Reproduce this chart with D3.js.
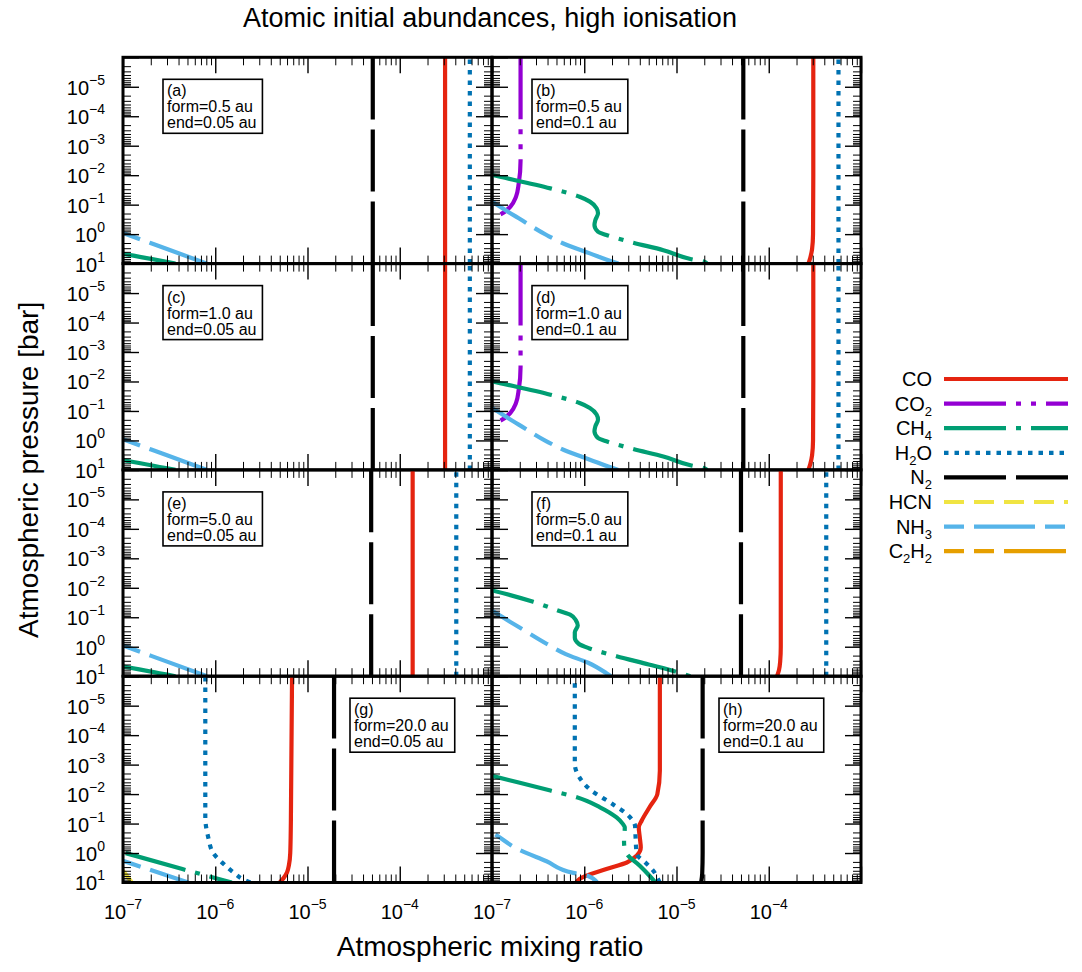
<!DOCTYPE html>
<html><head><meta charset="utf-8">
<script src="https://cdn.jsdelivr.net/npm/d3@7"></script>
<style>
body{margin:0;background:#fff}
svg{display:block}
text{font-family:"Liberation Sans",Arial,Helvetica,sans-serif;fill:#000}
</style>
</head><body>
<svg id="chart" width="1082" height="972"></svg>
<script>
// ---------------- DATA ----------------
const species = ["CO","CO2","CH4","H2O","N2","HCN","NH3","C2H2"];
const speciesLabels = [["CO",""],["CO","2"],["CH","4"],["H","2","O"],["N","2"],["HCN",""],["NH","3"],["C","2","H","2"]];
const panelIds = ["(a)","(b)","(c)","(d)","(e)","(f)","(g)","(h)"];
const formDist = ["0.5","0.5","1.0","1.0","5.0","5.0","20.0","20.0"];
const endDist  = ["0.05","0.1","0.05","0.1","0.05","0.1","0.05","0.1"];
const xTickValues = [1e-7,1e-6,1e-5,1e-4];
const xTickExp = ["\u22127","\u22126","\u22125","\u22124"];
const yTickValues = [1e-5,1e-4,1e-3,1e-2,1e-1,1,10];
const yTickExp = ["\u22125","\u22124","\u22123","\u22122","\u22121","0","1"];

// each series: [mixing ratio, pressure in bar], from deep (10 bar) upwards
const panelA = {
  CO:  [[3.1e-4,10],[3.1e-4,1e-6]],
  H2O: [[5.75e-4,10],[5.75e-4,1e-6]],
  N2:  [[5.1e-5,10],[5.1e-5,1e-6]],
  NH3: [[8.1e-7,10],[3.0e-7,3.2],[1.0e-7,0.91],[7.0e-8,0.6]],
  CH4: [[3.7e-7,10],[1.0e-7,4.7],[7.0e-8,3.9]]
};
const panelB = {
  CO:  [[2.69e-4,10],[2.82e-4,6.3],[2.95e-4,3.2],[3.02e-4,1],[3.04e-4,0.01],[3.04e-4,1e-6]],
  CO2: [[5.0e-8,0.5],[8.9e-8,0.32],[1.2e-7,0.224],[1.58e-7,0.117],[1.82e-7,0.054],[1.95e-7,0.019],[2.04e-7,3.2e-3],[2.04e-7,1e-6]],
  CH4: [[2.14e-5,10],[2.0e-5,8.7],[1.45e-5,7.1],[7.2e-6,3.5],[3.4e-6,1.95],[1.74e-6,1.07],[1.41e-6,0.83],[1.29e-6,0.49],[1.32e-6,0.33],[1.41e-6,0.195],[1.36e-6,0.132],[1.15e-6,0.079],[8.9e-7,0.054],[4.3e-7,0.028],[1.0e-7,0.0098],[6.3e-8,0.007]],
  H2O: [[5.7e-4,10],[5.7e-4,1e-6]],
  N2:  [[5.3e-5,10],[5.3e-5,1e-6]],
  NH3: [[2.34e-6,10],[2.04e-6,8.7],[1.15e-6,4.5],[6.5e-7,2.34],[3.9e-7,1.07],[1.95e-7,0.29],[1.58e-7,0.195],[1.0e-7,0.079],[7.1e-8,0.04]]
};
const panelC = {
  CO:  [[3.1e-4,10],[3.1e-4,1e-6]],
  H2O: [[5.75e-4,10],[5.75e-4,1e-6]],
  N2:  [[5.1e-5,10],[5.1e-5,1e-6]],
  NH3: [[8.1e-7,10],[3.0e-7,3.2],[1.0e-7,0.91],[7.0e-8,0.6]],
  CH4: [[3.7e-7,10],[1.0e-7,4.7],[7.0e-8,3.9]]
};
const panelD = {
  CO:  [[2.69e-4,10],[2.82e-4,6.3],[2.95e-4,3.2],[3.02e-4,1],[3.04e-4,0.01],[3.04e-4,1e-6]],
  CO2: [[5.0e-8,0.5],[8.9e-8,0.32],[1.2e-7,0.224],[1.58e-7,0.117],[1.82e-7,0.054],[1.95e-7,0.019],[2.04e-7,3.2e-3],[2.04e-7,1e-6]],
  CH4: [[2.14e-5,10],[2.0e-5,8.7],[1.45e-5,7.1],[7.2e-6,3.5],[3.4e-6,1.95],[1.74e-6,1.07],[1.41e-6,0.83],[1.29e-6,0.49],[1.32e-6,0.33],[1.41e-6,0.195],[1.36e-6,0.132],[1.15e-6,0.079],[8.9e-7,0.054],[4.3e-7,0.028],[1.0e-7,0.0098],[6.3e-8,0.007]],
  H2O: [[5.7e-4,10],[5.7e-4,1e-6]],
  N2:  [[5.3e-5,10],[5.3e-5,1e-6]],
  NH3: [[2.34e-6,10],[2.04e-6,8.7],[1.15e-6,4.5],[6.5e-7,2.34],[3.9e-7,1.07],[1.95e-7,0.29],[1.58e-7,0.195],[1.0e-7,0.079],[7.1e-8,0.04]]
};
const panelE = {
  CO:  [[1.38e-4,10],[1.38e-4,1e-6]],
  H2O: [[4.1e-4,10],[4.1e-4,1e-6]],
  N2:  [[4.9e-5,10],[4.9e-5,1e-6]],
  NH3: [[8.1e-7,10],[3.0e-7,3.2],[1.0e-7,0.91],[7.0e-8,0.6]],
  CH4: [[3.7e-7,10],[1.0e-7,4.7],[7.0e-8,3.9]]
};
const panelF = {
  CO:  [[1.23e-4,10],[1.29e-4,6.3],[1.33e-4,3.2],[1.35e-4,1],[1.35e-4,1e-6]],
  CH4: [[1.41e-5,10],[1.0e-5,7.1],[5.0e-6,4.0],[2.24e-6,2.1],[1.12e-6,1.12],[8.7e-7,0.79],[7.9e-7,0.5],[7.9e-7,0.32],[8.5e-7,0.19],[8.1e-7,0.126],[7.1e-7,0.083],[5.5e-7,0.063],[2.8e-7,0.030],[1.0e-7,0.0123],[6.3e-8,0.0089]],
  H2O: [[4.2e-4,10],[4.2e-4,1e-6]],
  N2:  [[5.0e-5,10],[5.0e-5,1e-6]],
  NH3: [[1.95e-6,10],[1.74e-6,7.9],[1.1e-6,3.5],[6.3e-7,1.78],[3.9e-7,0.79],[1.95e-7,0.214],[1.58e-7,0.145],[1.0e-7,0.059],[7.1e-8,0.032]]
};
const panelG = {
  CO:  [[5.0e-6,10],[5.5e-6,7.1],[6.0e-6,4.5],[6.3e-6,2.5],[6.5e-6,1],[6.6e-6,0.1],[6.8e-6,1e-6]],
  CH4: [[1.51e-6,10],[4.4e-7,3.5],[1.0e-7,0.95],[7.1e-8,0.7]],
  H2O: [[2.4e-6,10],[2.0e-6,7.8],[1.58e-6,4.6],[1.23e-6,2.34],[9.5e-7,1],[8.4e-7,0.295],[7.8e-7,0.062],[7.8e-7,1e-6]],
  N2:  [[1.94e-5,10],[1.94e-5,1e-6]],
  HCN: [[1.245e-7,10],[1.05e-7,4.9],[8.9e-8,2.8]],
  NH3: [[5.1e-7,10],[1.0e-7,1.82],[7.1e-8,1.26]]
};
const panelH = {
  CO:  [[8.2e-7,10],[8.9e-7,7.6],[1.74e-6,3.5],[2.9e-6,2.1],[3.7e-6,1.23],[4.1e-6,0.65],[4.0e-6,0.295],[3.9e-6,0.135],[4.2e-6,0.079],[5.1e-6,0.028],[6.2e-6,0.01],[6.6e-6,1.6e-3],[6.6e-6,1e-6]],
  CH4: [[5.9e-6,10],[5.1e-6,5.9],[4.0e-6,2.7],[2.9e-6,1.07],[2.7e-6,0.44],[2.75e-6,0.135],[2.63e-6,0.105],[2.24e-6,0.062],[1.48e-6,0.028],[8.3e-7,0.0129],[4.3e-7,7.6e-3],[1.0e-7,2.4e-3],[6.3e-8,1.66e-3]],
  H2O: [[6.6e-6,10],[6.3e-6,7.6],[5.6e-6,4.0],[4.6e-6,2.1],[3.7e-6,1.07],[3.6e-6,0.295],[3.55e-6,0.12],[2.9e-6,0.048],[2.04e-6,0.022],[1.15e-6,6.9e-3],[8.7e-7,2.45e-3],[7.9e-7,9.5e-4],[7.9e-7,1e-6]],
  N2:  [[1.85e-5,10],[1.9e-5,5],[1.92e-5,1],[1.92e-5,1e-6]],
  NH3: [[1.38e-6,10],[1.07e-6,5.75],[7.6e-7,4.7],[3.9e-7,1.9],[1.95e-7,0.76],[1.0e-7,0.2],[7.1e-8,0.11]]
};
const panels = [panelA,panelB,panelC,panelD,panelE,panelF,panelG,panelH];

// ---------------- STYLE / LAYOUT ----------------
const styles = {
  CO:   {color:"#e52410", dash:null, fromTop:false},
  CO2:  {color:"#9400d3", dash:"62,10,5,10,5,10", fromTop:true},
  CH4:  {color:"#009e73", dash:"62,10,5,10", fromTop:false},
  H2O:  {color:"#0072b2", dash:"4.5,6", fromTop:false},
  N2:   {color:"#000000", dash:"62,10", fromTop:false},
  HCN:  {color:"#f0e442", dash:"20,10", fromTop:false},
  NH3:  {color:"#56b4e9", dash:"20,10,61,10", fromTop:false},
  C2H2: {color:"#e69f00", dash:"20,10,20,10,62,10", fromTop:false}
};
// dash phase per panel (a..h)
const dashPhase = {
  CH4: [0,72,0,72,0,72,39,23],
  NH3: [30,30,30,30,30,30,51,7]
};
const plotLeft = 123, plotRight = 861, plotTop = 57.3, plotBottom = 882.5;
const colW = (plotRight - plotLeft) / 2;
const rowH = (plotBottom - plotTop) / 4;
const lineW = 4.2;

const x = d3.scaleLog().domain([1e-7, 1e-3]).range([0, colW]);
const y = d3.scaleLog().domain([1e-6, 10]).range([0, rowH]);
const line = d3.line().x(d => x(d[0])).y(d => y(d[1])).curve(d3.curveMonotoneY);

function minorTicks(lo, hi) {
  const out = [];
  for (let e = lo; e < hi; e++) for (let k = 2; k <= 9; k++) out.push(k * Math.pow(10, e));
  return out;
}
const xMajor = [1e-7,1e-6,1e-5,1e-4,1e-3];
const yMajor = [1e-6,1e-5,1e-4,1e-3,1e-2,1e-1,1,10];
const xMinor = minorTicks(-7, -3);
const yMinor = minorTicks(-6, 1);

const svg = d3.select("#chart");

// title and axis titles
svg.append("text").attr("x", 490).attr("y", 27)
  .attr("text-anchor", "middle").attr("font-size", 27)
  .text("Atomic initial abundances, high ionisation");
svg.append("text").attr("x", 490).attr("y", 956)
  .attr("text-anchor", "middle").attr("font-size", 28)
  .text("Atmospheric mixing ratio");
svg.append("text").attr("transform", `translate(38,${(plotTop + plotBottom) / 2}) rotate(-90)`)
  .attr("text-anchor", "middle").attr("font-size", 28)
  .text("Atmospheric pressure [bar]");

panels.forEach((pd, i) => {
  const col = i % 2, row = Math.floor(i / 2);
  const gx = plotLeft + col * colW, gy = plotTop + row * rowH;
  const g = svg.append("g").attr("transform", `translate(${gx},${gy})`);

  g.append("clipPath").attr("id", "clip" + i)
    .append("rect").attr("width", colW).attr("height", rowH);
  const lg = g.append("g").attr("clip-path", `url(#clip${i})`);
  species.forEach(sp => {
    const d = pd[sp];
    if (!d) return;
    const st = styles[sp];
    const pts = st.fromTop ? d.slice().reverse() : d;
    const off = dashPhase[sp] ? dashPhase[sp][i] : 0;
    lg.append("path").datum(pts).attr("d", line)
      .attr("fill", "none").attr("stroke", st.color).attr("stroke-width", lineW)
      .attr("stroke-linejoin", "round").attr("stroke-linecap", "butt")
      .attr("stroke-dasharray", st.dash).attr("stroke-dashoffset", off);
  });

  // ticks via d3 axes (inward)
  const mk = (axisFn, vals, size, w, tr) => {
    const a = g.append("g").attr("transform", tr)
      .call(axisFn.tickValues(vals).tickSize(size).tickFormat(""));
    a.select(".domain").remove();
    a.selectAll("line").attr("stroke", "#000").attr("stroke-width", w);
  };
  mk(d3.axisBottom(x), xMajor, -16, 1.4, `translate(0,${rowH})`);
  mk(d3.axisBottom(x), xMinor, -8, 1, `translate(0,${rowH})`);
  mk(d3.axisTop(x), xMajor, -16, 1.4, `translate(0,0)`);
  mk(d3.axisTop(x), xMinor, -8, 1, `translate(0,0)`);
  mk(d3.axisLeft(y), yMajor, -16, 1.4, `translate(0,0)`);
  mk(d3.axisLeft(y), yMinor, -8, 1, `translate(0,0)`);
  mk(d3.axisRight(y), yMajor, -16, 1.4, `translate(${colW},0)`);
  mk(d3.axisRight(y), yMinor, -8, 1, `translate(${colW},0)`);

  g.append("rect").attr("width", colW).attr("height", rowH)
    .attr("fill", "none").attr("stroke", "#000").attr("stroke-width", 3);

  // y tick labels (left column)
  if (col === 0) {
    yTickValues.forEach((v, k) => {
      const t = g.append("text").attr("x", -18).attr("y", y(v) + 8)
        .attr("text-anchor", "end").attr("font-size", 20);
      t.append("tspan").text("10");
      t.append("tspan").attr("dy", -10).attr("font-size", 14).text(yTickExp[k]);
    });
  }
  // x tick labels (bottom row)
  if (row === 3) {
    xTickValues.forEach((v, k) => {
      const t = g.append("text").attr("x", x(v)).attr("y", rowH + 37)
        .attr("text-anchor", "middle").attr("font-size", 20);
      t.append("tspan").text("10");
      t.append("tspan").attr("dy", -10).attr("font-size", 14).text(xTickExp[k]);
    });
  }

  // panel label box
  const bx = row === 3 ? 227 : 40, by = 22;
  const lab = g.append("g").attr("transform", `translate(${bx},${by})`);
  const rect = lab.append("rect").attr("fill", "#fff").attr("stroke", "#000").attr("stroke-width", 1.6);
  const lines = [panelIds[i], `form=${formDist[i]} au`, `end=${endDist[i]} au`];
  let maxW = 0;
  lines.forEach((s, k) => {
    const t = lab.append("text").attr("x", 4).attr("y", 17 + k * 16).attr("font-size", 16).text(s);
    maxW = Math.max(maxW, t.node().getComputedTextLength());
  });
  rect.attr("width", maxW + 10).attr("height", 54);
});

// legend
const legX1 = 944, legX2 = 1068, legTextX = 932, legY0 = 379, legDy = 24.6;
species.forEach((sp, k) => {
  const yy = legY0 + k * legDy;
  const st = styles[sp];
  svg.append("line").attr("x1", legX1).attr("x2", legX2).attr("y1", yy).attr("y2", yy)
    .attr("stroke", st.color).attr("stroke-width", lineW).attr("stroke-dasharray", st.dash);
  const t = svg.append("text").attr("x", legTextX).attr("y", yy + 7)
    .attr("text-anchor", "end").attr("font-size", 20);
  const parts = speciesLabels[k];
  parts.forEach((p, j) => {
    if (!p) return;
    const isSub = j % 2 === 1;
    const ts = t.append("tspan").text(p);
    if (isSub) ts.attr("font-size", 13).attr("dy", 5);
    else if (j > 0) ts.attr("dy", -5);
  });
});
</script>
</body></html>
